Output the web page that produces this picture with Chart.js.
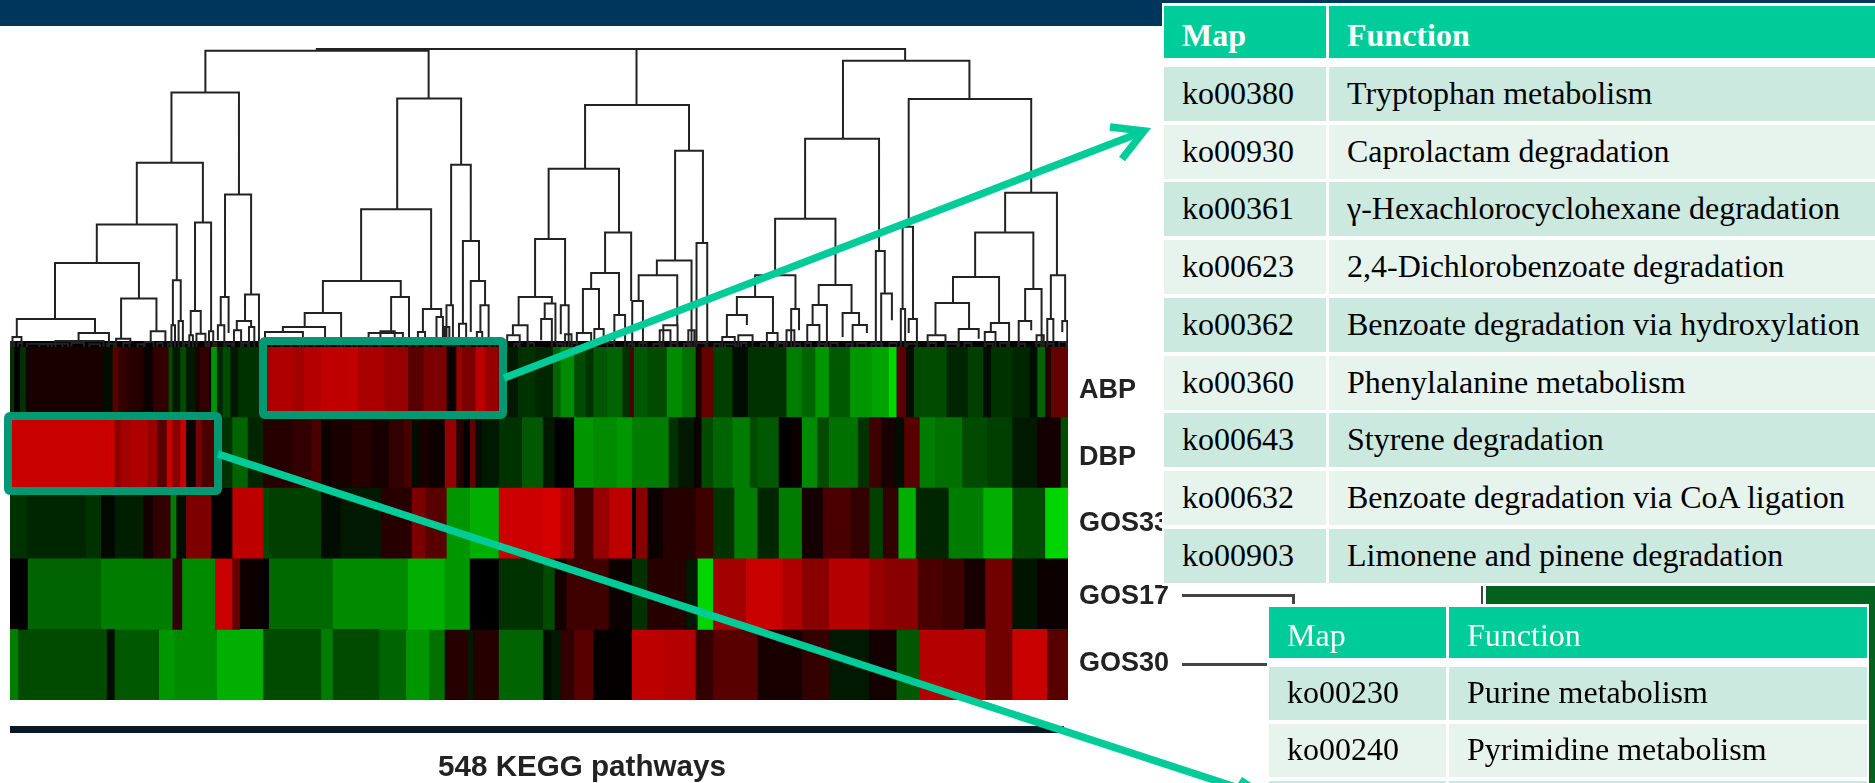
<!DOCTYPE html>
<html><head><meta charset="utf-8">
<script src="https://cdn.jsdelivr.net/npm/chart.js@4"></script>
<style>
html,body{margin:0;padding:0;background:#fff;width:1875px;height:783px;overflow:hidden}
.abs{position:absolute}
.soft{filter:blur(0.6px)}
.cell{position:absolute;font-family:"Liberation Serif",serif;font-size:32px;color:#000;white-space:nowrap;overflow:hidden;box-sizing:border-box}
</style></head><body>
<div class="abs" style="left:0;top:0;width:1875px;height:26px;background:#00365c"></div>
<div class="abs soft" style="left:10px;top:30px;width:1058px;height:317px"><canvas id="dendro"></canvas></div>
<div class="abs soft" style="left:10px;top:347px;width:1165px;height:353px"><canvas id="heat"></canvas></div>
<div class="abs" style="left:10px;top:726px;width:1054px;height:7px;background:#0a1824"></div>
<div class="abs soft" style="left:437px;top:749px;width:290px;text-align:center;font:bold 29.6px 'Liberation Sans',sans-serif;color:#222;white-space:nowrap">548 KEGG pathways</div>
<div class="abs" style="left:1182px;top:594px;width:112px;height:3px;background:#444"></div>
<div class="abs" style="left:1292px;top:594px;width:3px;height:12px;background:#444"></div>
<div class="abs" style="left:1182px;top:663px;width:86px;height:3px;background:#444"></div>
<div class="abs" style="left:1481px;top:582px;width:2px;height:24px;background:#444"></div>
<div class="abs" style="left:1486px;top:582px;width:389px;height:201px;background:#04601f"></div>
<svg class="abs" style="left:0;top:0" width="1875" height="783" fill="none">
  <rect x="263" y="341" width="240" height="74" rx="2" stroke="#009973" stroke-width="8"/>
  <rect x="8" y="416" width="210" height="75" rx="2" stroke="#009973" stroke-width="8"/>
  <g stroke="#00cc99" stroke-width="7.5">
    <line x1="504" y1="378" x2="1142" y2="132"/>
    <polyline points="1110,127 1144,131 1122,159"/>
    <line x1="218" y1="454" x2="1275" y2="800"/>
    <polyline points="1240,780 1270,800"/>
  </g>
</svg>
<div id="tables"></div>
<script>
// Heat map: each row is a list of [end pathway index, log-ratio value]
const rowNames = ['ABP','DBP','GOS33','GOS17','GOS30'];
const rowLabelAt = [0.61,1.57,2.5,3.54,4.49];
const totalPathways = 548;
const abpRow = [[2,-.2],[5,0],[8,-.2],[48,.1],[53,-.05],[56,.35],[61,.2],[69,.15],[74,.05],[82,.2],[84,-.3],[88,-.1],[91,-.3],[96,-.1],[98,.1],[103,.2],[104,-.05],[107,-.6],[110,-.15],[114,-.3],[118,-.1],[129,-.2],[133,-.3],[135,.65],[146,.7],[152,.65],[161,.72],[176,.76],[180,.78],[194,.68],[206,.6],[214,.35],[226,.5],[231,.05],[234,.6],[241,.5],[246,.75],[253,.6],[258,-.1],[263,-.1],[272,-.2],[281,-.15],[285,-.4],[292,-.55],[298,-.3],[302,-.2],[309,-.35],[317,-.4],[321,-.2],[323,.3],[330,-.35],[340,-.3],[348,-.55],[355,-.45],[358,.1],[364,.4],[374,-.25],[382,-.05],[389,-.2],[402,-.2],[410,-.5],[417,-.4],[424,-.6],[435,-.35],[446,-.6],[455,-.65],[459,-.85],[464,.35],[468,-.05],[485,-.3],[496,-.15],[504,-.25],[508,-.05],[519,-.2],[528,-.15],[532,-.05],[536,-.4],[539,.15],[548,.4]];
const dbpRow = [[50,.8],[54,.82],[57,.55],[62,.65],[71,.7],[76,.6],[81,.35],[84,.8],[88,.55],[91,.8],[96,.05],[99,.5],[106,.3],[109,0],[115,-.2],[123,-.4],[131,-.15],[146,.15],[156,.2],[161,.3],[166,.05],[177,.1],[187,.15],[196,.1],[204,.2],[208,.3],[212,-.05],[217,.1],[225,.05],[231,.6],[235,.15],[238,0],[241,.4],[244,-.05],[253,-.1],[265,-.2],[276,-.35],[282,-.1],[292,0],[302,-.6],[314,-.55],[322,-.6],[341,-.5],[346,-.2],[354,-.1],[358,.05],[364,-.3],[374,-.4],[383,-.5],[387,-.3],[398,-.35],[405,0],[410,.05],[418,-.55],[424,-.3],[439,-.45],[445,-.2],[451,.25],[458,.1],[463,-.05],[471,.35],[479,-.5],[493,-.45],[506,-.3],[519,-.25],[532,-.1],[544,.08],[548,-.3]];
const gos33Row = [[9,-.2],[39,-.15],[47,-.2],[54,-.03],[69,-.12],[74,.08],[83,.2],[86,-.5],[91,-.05],[104,.5],[113,.02],[115,0],[131,.75],[134,-.3],[161,-.25],[171,-.05],[192,-.1],[208,.15],[215,.5],[226,.35],[238,-.6],[253,-.7],[276,.82],[285,.85],[292,.7],[302,.25],[310,.6],[322,.75],[324,0],[330,.55],[338,.05],[355,.15],[364,.25],[375,-.2],[387,-.5],[398,-.15],[410,-.5],[421,.08],[435,.3],[445,.2],[452,-.25],[460,.2],[469,-.7],[486,-.15],[504,-.5],[519,-.7],[536,-.3],[548,-.85]];
const gos17Row = [[9,0],[47,-.4],[84,-.5],[89,.2],[106,-.55],[115,.8],[119,.4],[131,.05],[134,0],[167,-.42],[206,-.55],[225,-.7],[238,-.6],[253,0],[276,-.2],[282,-.3],[288,.08],[310,.25],[322,.05],[330,-.2],[350,.15],[356,-.1],[364,-.85],[381,.65],[400,.8],[410,.7],[424,.55],[445,.72],[453,.6],[470,.55],[483,.3],[494,.25],[505,.1],[519,.45],[532,-.08],[548,.05]];
const gos30Row = [[4,-.5],[50,-.3],[54,-.05],[77,-.35],[85,-.6],[104,-.55],[107,-.55],[131,-.7],[161,-.3],[167,-.5],[191,-.3],[205,-.4],[217,-.6],[225,-.45],[237,.15],[240,-.1],[253,.15],[276,-.4],[280,-.05],[285,-.1],[292,.2],[302,.35],[322,.02],[339,.75],[355,.72],[364,.2],[387,.35],[410,.1],[424,.2],[445,-.1],[459,.08],[471,-.35],[505,.72],[519,.45],[537,.8],[548,.35]];
const heatRows = [abpRow,dbpRow,gos33Row,gos17Row,gos30Row];

// Dendrogram links: [left leaf, right leaf, merge depth, left foot, right foot]
const leafDepth = 950;
const clusterLeft = [
[575,1200,62,187,205],[887,1200,60,60,60],
[480,669,187,398,493],[383,568,398,583,577],[271,495,583,698,750],[154,389,698,866,805],[47,266,866,920,908],[339,438,805,925,903],[484,506,750,885,872],[546,591,577,842,903],[534,562,842,915,910],[630,703,493,800,793],[618,640,800,885,908],[686,725,793,872,950],[663,703,872,900,890],[220,305,908,935,950],[35,60,920,950,940],[422,463,903,935,935],[405,430,935,950,950],[325,365,925,950,940],[480,490,885,950,950],[500,512,872,950,950],[585,597,903,950,950],[610,628,885,930,950],[530,540,915,950,950],[550,575,910,950,950],[655,675,900,950,950],[697,712,890,950,950],[75,190,940,950,950],[155,290,932,950,950],
[1112,1291,205,537,404],[1011,1207,537,752,836],[904,1122,752,848,800],[853,955,848,890,950],[792,910,890,905,950],[742,848,905,950,950],[1095,1145,800,905,950],[1032,1128,908,950,950],[1065,1105,903,950,950],[1184,1235,836,905,860],[1222,1240,860,925,950],[1170,1190,905,950,950],[1263,1318,404,825,632],[1250,1268,825,950,950],[1296,1341,632,880,752],[1285,1305,880,950,950],[1318,1358,752,905,825],[1345,1368,825,905,950],[1335,1350,905,950,950],[1245,1258,890,950,950]
];
const clusterRight = [
[-625,1022,57,60,92],[270,270,57,57,225],
[126,417,225,416,362],[24,221,416,626,607],[-14,70,626,800,825],[-60,33,800,885,820],[-76,-35,885,915,950],[-92,-57,915,950,950],[13,43,820,866,940],[3,33,866,930,950],[58,80,825,912,950],[70,88,912,950,950],[182,255,607,728,812],[143,221,728,776,854],[120,165,776,908,896],[103,143,908,950,950],[152,178,896,950,930],[208,238,854,950,950],[258,288,812,950,950],[378,456,362,691,638],[327,424,691,735,950],[276,384,735,812,885],[345,385,885,950,950],[335,365,900,950,950],[438,468,638,950,950],[415,432,900,950,950],
[848,1202,92,326,207],[742,949,326,566,662],[658,827,566,735,764],[602,715,735,800,836],[551,652,800,854,908],[523,579,854,920,884],[510,545,920,950,950],[555,595,915,950,950],[635,665,908,950,950],[703,725,836,950,900],[690,712,900,950,950],[780,872,764,824,848],[763,803,824,884,950],[748,782,884,935,950],[847,893,848,920,884],[875,915,884,950,908],[940,965,662,950,790],[955,985,790,950,870],[1032,1375,207,590,488],[1015,1044,590,836,866],[1010,1022,836,950,950],[1032,1055,866,908,950],[1302,1447,488,607,735],[1218,1381,607,740,776],[1156,1285,740,818,878],[1107,1201,818,915,896],[1085,1135,915,950,950],[1172,1228,896,950,925],[1262,1313,878,905,950],[1245,1275,905,950,950],[1358,1404,776,872,950],[1340,1375,872,950,900],[1390,1410,915,950,950],[1430,1470,735,866,872],[1420,1437,866,950,950],[1462,1476,872,905,950]
];
const rightOffset = 1512, axisMinX = 28, axisMaxX = 2990;
// Tiny low-level merges at the foot of the tree: [left, right, depth]
const leafLinks = [[30,40,935],[50,62,938],[110,135,942],[145,175,940],[200,235,938],[250,280,942],[300,320,940],[345,362,938],[385,402,942],[440,455,938],[470,478,940],[515,528,938],[578,584,940],[600,606,938],[632,650,940],[680,694,938],[730,745,940],[760,790,942],[815,840,940],[860,880,938],[920,945,940],[965,985,942],[1000,1020,938],[1040,1060,940],[1110,1130,938],[1150,1165,940],[1195,1215,938],[1275,1282,940],[1308,1315,938],[1372,1385,940],[1395,1410,938],[1440,1450,940],[1480,1495,938],[1560,1575,940],[1600,1615,938],[1640,1660,940],[1700,1720,938],[1760,1775,940],[1790,1810,938],[1830,1850,940],[1880,1895,938],[1915,1930,940],[1950,1975,938],[2000,2015,940],[2030,2060,942],[2075,2090,938],[2130,2150,940],[2170,2195,938],[2225,2240,940],[2255,2270,938],[2290,2310,940],[2325,2345,938],[2370,2385,940],[2400,2425,938],[2440,2470,940],[2490,2510,938],[2540,2565,940],[2600,2620,938],[2650,2680,940],[2700,2720,938],[2760,2780,940],[2800,2820,938],[2850,2870,940],[2900,2915,938],[2930,2950,940],[2965,2985,935]];

// Tables
const table1Maps = ['ko00380','ko00930','ko00361','ko00623','ko00362','ko00360','ko00643','ko00632','ko00903'];
const table1Functions = ['Tryptophan metabolism','Caprolactam degradation','γ-Hexachlorocyclohexane degradation','2,4-Dichlorobenzoate degradation','Benzoate degradation via hydroxylation','Phenylalanine metabolism','Styrene degradation','Benzoate degradation via CoA ligation','Limonene and pinene degradation'];
const table2Maps = ['ko00230','ko00240',''];
const table2Functions = ['Purine metabolism','Pyrimidine metabolism',''];

function heatColor(v){
  const a = Math.round(Math.abs(v)*250);
  return v >= 0 ? `rgb(${a},0,0)` : `rgb(0,${a},0)`;
}
const maxSeg = Math.max(...heatRows.map(r=>r.length));
const heatSets = [];
for(let i=0;i<maxSeg;i++){
  heatSets.push({
    data: heatRows.map(r=> r[i] ? [i===0?0:r[i-1][0], r[i][0]] : null),
    backgroundColor: heatRows.map(r=> r[i] ? heatColor(r[i][1]) : 'transparent'),
    grouped:false, barPercentage:1, categoryPercentage:1, borderWidth:0
  });
}
heatSets.push({data: rowNames.map(()=>[0,totalPathways]), backgroundColor:'#000', grouped:false, barPercentage:1, categoryPercentage:1, borderWidth:0});

new Chart(document.getElementById('heat'),{
  type:'bar',
  data:{labels:rowNames,datasets:heatSets},
  options:{
    indexAxis:'y',responsive:true,maintainAspectRatio:false,animation:false,
    layout:{padding:0},
    plugins:{legend:{display:false},tooltip:{enabled:false}},
    scales:{
      x:{type:'linear',min:0,max:totalPathways,display:false},
      y:{display:false},
      rowLabels:{axis:'y',type:'linear',position:'right',min:0,max:rowNames.length,reverse:true,offset:false,
         grid:{display:false,drawTicks:false},border:{display:false},
         afterBuildTicks(s){s.ticks=rowLabelAt.map(v=>({value:v}))},
         afterFit(s){s.width=107;s.paddingTop=0;s.paddingBottom=0},
         ticks:{autoSkip:false,padding:11,color:'#222',font:{family:'"Liberation Sans"',size:27,weight:'bold'},
           callback(v){return rowNames[rowLabelAt.indexOf(v)]}}}
    }
  }
});

const pts=[];
const addLink=(l,off)=>{
  const [a,b,y,fa,fb]=l;
  pts.push({x:a+off,y:fa},{x:a+off,y},{x:b+off,y},{x:b+off,y:fb},{x:NaN,y:NaN});
};
clusterLeft.forEach(l=>addLink(l,0));
clusterRight.forEach(l=>addLink(l,rightOffset));
leafLinks.forEach(([a,b,y])=>addLink([a,b,y,leafDepth,leafDepth],0));

new Chart(document.getElementById('dendro'),{
  type:'scatter',
  data:{datasets:[
    {data:pts,showLine:true,spanGaps:false,borderColor:'#222',borderWidth:2,pointRadius:0,clip:false,tension:0},
    {data:[{x:axisMinX,y:leafDepth-9},{x:axisMaxX,y:leafDepth-9}],showLine:true,borderColor:'#000',borderWidth:6,pointRadius:0,clip:false}
  ]},
  options:{
    responsive:true,maintainAspectRatio:false,animation:false,
    layout:{padding:0},
    plugins:{legend:{display:false},tooltip:{enabled:false}},
    scales:{
      x:{type:'linear',min:axisMinX,max:axisMaxX,display:false},
      y:{type:'linear',min:0,max:leafDepth,reverse:true,display:false}
    }
  }
});

function makeTable(maps,funcs,o){
  const host=document.getElementById('tables');
  const cell=(x,y,w,h,bg,txt,pad,st,lh)=>{
    const d=document.createElement('div');d.className='cell';
    d.style.cssText=`left:${x}px;top:${y}px;width:${w}px;height:${h}px;background:${bg};line-height:${lh||h}px;padding-left:${pad}px;${st||''}`;
    d.textContent=txt;host.appendChild(d);
  };
  cell(o.left-2,o.bgTop,o.right-o.left+4,Math.min(o.firstTop+o.pitch*maps.length,783)-o.bgTop,'#fff','',0);
  const hs=`color:#fff;font-weight:${o.bold?'bold':'normal'};`;
  cell(o.left,o.headTop,o.split-o.left-1.5,o.headH,'#00cc99','Map',o.pad1,hs,o.headH+6);
  cell(o.split+1.5,o.headTop,o.right-o.split-1.5,o.headH,'#00cc99','Function',o.pad2,hs,o.headH+6);
  maps.forEach((m,i)=>{
    const y=Math.round(o.firstTop+i*o.pitch), bg=i%2?'#e7f4ee':'#cbe9de', h=Math.round(o.pitch-4);
    cell(o.left,y,o.split-o.left-1.5,h,bg,m,o.pad1,'',h-2);
    cell(o.split+1.5,y,o.right-o.split-1.5,h,bg,funcs[i],o.pad2,'',h-2);
  });
}
makeTable(table1Maps,table1Functions,{left:1164,right:1875,split:1327.5,bgTop:3,headTop:6,headH:52,firstTop:67,pitch:57.7,pad1:18,pad2:18,bold:true});
makeTable(table2Maps,table2Functions,{left:1269,right:1867,split:1447,bgTop:604,headTop:607,headH:51,firstTop:667,pitch:57,pad1:18,pad2:18.5,bold:false});
</script>
</body></html>
